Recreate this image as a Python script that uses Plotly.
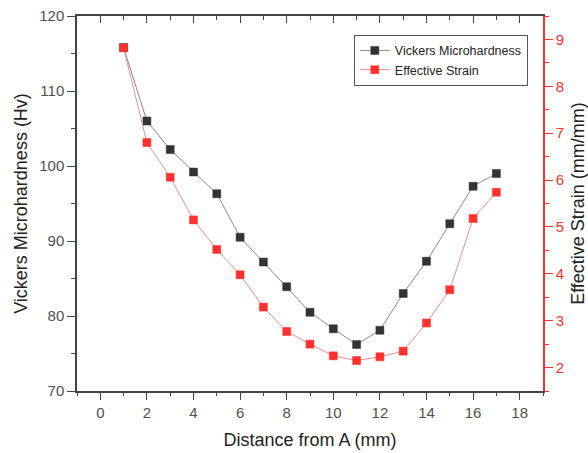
import plotly.graph_objects as go

# Measurement positions along the specimen (mm)
distance_mm = [1, 2, 3, 4, 5, 6, 7, 8, 9, 10, 11, 12, 13, 14, 15, 16, 17]

# Vickers microhardness (Hv)
hardness_hv = [115.8, 106.0, 102.2, 99.2, 96.3, 90.5, 87.2, 83.9, 80.5,
               78.3, 76.2, 78.1, 83.0, 87.3, 92.3, 97.3, 99.0]

# Effective strain (mm/mm)
effective_strain = [8.82, 6.80, 6.06, 5.15, 4.52, 3.98, 3.29, 2.77, 2.50,
                    2.25, 2.15, 2.23, 2.35, 2.95, 3.66, 5.18, 5.74]

x_ticks = [0, 2, 4, 6, 8, 10, 12, 14, 16, 18]
hv_ticks = [70, 80, 90, 100, 110, 120]
strain_ticks = [2, 3, 4, 5, 6, 7, 8, 9]

FONT = "Liberation Sans, Arial, sans-serif"
AXIS_GREY = "#444444"
LABEL_GREY = "#505050"
RED = "#ff3030"

fig = go.Figure()

fig.add_trace(go.Scatter(
    x=distance_mm, y=hardness_hv, name="Vickers Microhardness",
    mode="lines+markers",
    line=dict(color="#8a8a8a", width=1),
    marker=dict(symbol="square", size=8, color="#333333",
                line=dict(color="#333333", width=0.5)),
    xaxis="x", yaxis="y",
))

fig.add_trace(go.Scatter(
    x=distance_mm, y=effective_strain, name="Effective Strain",
    mode="lines+markers",
    line=dict(color="#e89090", width=1),
    marker=dict(symbol="square", size=8, color=RED,
                line=dict(color=RED, width=0.5)),
    xaxis="x", yaxis="y2",
))

# Invisible trace so the top frame axis (inward ticks) is drawn
fig.add_trace(go.Scatter(
    x=distance_mm, y=hardness_hv, mode="markers", showlegend=False,
    hoverinfo="skip", marker=dict(opacity=0), xaxis="x2", yaxis="y",
))

tick_font = dict(family=FONT, size=15, color=LABEL_GREY)
title_font = dict(family=FONT, size=18, color="#222222")

fig.update_layout(
    width=588, height=453,
    margin=dict(l=77, r=45, t=16, b=62),
    paper_bgcolor="white", plot_bgcolor="white",
    font=dict(family=FONT),
    showlegend=True,
    legend=dict(
        x=0.594, y=0.95, xanchor="left", yanchor="top",
        bgcolor="white", bordercolor="#555555", borderwidth=1,
        font=dict(family=FONT, size=12.5, color="#222222"),
        tracegroupgap=0,
    ),
    xaxis=dict(
        range=[-1, 19], tickvals=x_ticks, automargin=False,
        ticks="outside", ticklen=7, tickwidth=1.2, tickcolor=AXIS_GREY,
        minor=dict(dtick=1, tick0=1, ticks="outside", ticklen=3,
                   tickcolor=AXIS_GREY, showgrid=False),
        showline=True, linecolor=AXIS_GREY, linewidth=1.5,
        showgrid=False, zeroline=False,
        tickfont=tick_font,
        title=dict(text="Distance from A (mm)", font=title_font,
                   standoff=14),
    ),
    xaxis2=dict(
        range=[-1, 19], tickvals=x_ticks, overlaying="x", side="top",
        anchor="y", automargin=False,
        ticks="inside", ticklen=7, tickwidth=1.2, tickcolor=AXIS_GREY,
        minor=dict(dtick=1, tick0=1, ticks="inside", ticklen=4,
                   tickcolor=AXIS_GREY, showgrid=False),
        showline=True, linecolor=AXIS_GREY, linewidth=1.5,
        showticklabels=False, showgrid=False, zeroline=False,
    ),
    yaxis=dict(
        range=[70, 120], tickvals=hv_ticks, automargin=False,
        ticks="outside", ticklen=8, tickwidth=1.2, tickcolor=AXIS_GREY,
        minor=dict(dtick=5, tick0=75, ticks="outside", ticklen=4,
                   tickcolor=AXIS_GREY, showgrid=False),
        showline=True, linecolor=AXIS_GREY, linewidth=1.5,
        showgrid=False, zeroline=False,
        tickfont=tick_font,
        title=dict(text="Vickers Microhardness (Hv)", font=title_font,
                   standoff=7),
    ),
    yaxis2=dict(
        range=[1.5, 9.5], tickvals=strain_ticks, overlaying="y",
        side="right", anchor="x", automargin=False,
        ticks="outside", ticklen=8, tickwidth=1.2, tickcolor=RED,
        minor=dict(dtick=0.5, tick0=1.5, ticks="outside", ticklen=4,
                   tickcolor=RED, showgrid=False),
        showline=True, linecolor=RED, linewidth=1.5,
        showgrid=False, zeroline=False,
        tickfont=dict(family=FONT, size=15, color=RED),
        title=dict(text="Effective Strain (mm/mm)", font=title_font,
                   standoff=8),
    ),
)

fig.write_html("out.html")
